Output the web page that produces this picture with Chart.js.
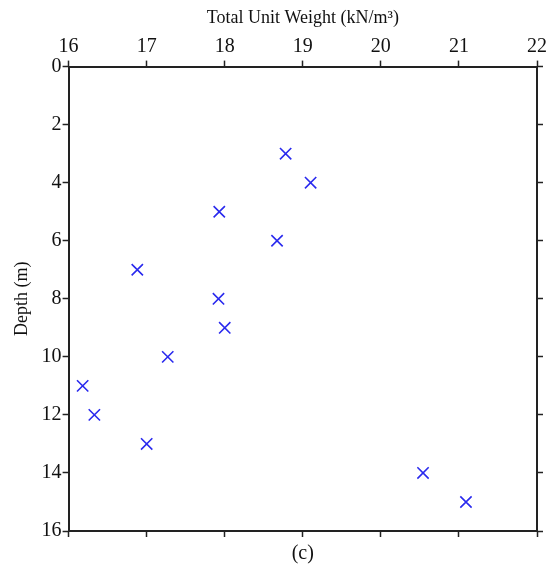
<!DOCTYPE html>
<html>
<head>
<meta charset="utf-8">
<script src="https://cdn.jsdelivr.net/npm/chart.js@4"></script>
<style>
    body { margin: 0; background: #fff; }
    #wrap { width: 550px; height: 574px; }
</style>
</head>
<body>
<div id="wrap"><canvas id="myChart" width="550" height="574"></canvas></div>
<script>
// unit weight readings against depth
const depths = [3, 4, 5, 6, 7, 8, 9, 10, 11, 12, 13, 14, 15];
const unitWeights = [18.78, 19.1, 17.93, 18.67, 16.88, 17.92, 18.0, 17.27, 16.18, 16.33, 17.0, 20.54, 21.09];
const weightTicks = [16, 17, 18, 19, 20, 21, 22];
const depthTicks = [0, 2, 4, 6, 8, 10, 12, 14, 16];

const serif = 'Liberation Serif';
const axisColor = '#222';

let points = [];
for (let i in depths) {
    points.push({ x: unitWeights[i], y: depths[i] });
}

function frameGrid() {
    return {
        drawOnChartArea: false,
        drawTicks: true,
        tickLength: 6,
        tickWidth: 1.5,
        tickColor: axisColor
    };
}

const ctx = document.getElementById('myChart').getContext('2d');
const graph = new Chart(ctx, {
    type: 'scatter',
    data: {
        datasets: [{
            data: points,
            pointStyle: 'crossRot',
            pointRadius: 8,
            pointHoverRadius: 8,
            borderColor: '#2a2aee',
            backgroundColor: '#2a2aee',
            pointBorderWidth: 1.6,
            xAxisID: 'x',
            yAxisID: 'y'
        }]
    },
    options: {
        responsive: false,
        animation: false,
        layout: { padding: { left: 11, right: 7, top: 7, bottom: 8 } },
        plugins: { legend: { display: false }, tooltip: { enabled: false } },
        scales: {
            x: {
                position: 'top',
                min: 16, max: 22,
                afterBuildTicks: s => { s.ticks = weightTicks.map(v => ({ value: v })); },
                ticks: { color: '#111', font: { family: serif, size: 20 }, padding: 2 },
                grid: frameGrid(),
                border: { color: axisColor, width: 2 },
                title: { display: true, text: 'Total Unit Weight (kN/m³)', color: '#111',
                         font: { family: serif, size: 18 }, padding: { top: 0, bottom: 4 } }
            },
            x2: {
                position: 'bottom',
                min: 16, max: 22,
                afterBuildTicks: s => { s.ticks = weightTicks.map(v => ({ value: v })); },
                ticks: { display: false },
                grid: frameGrid(),
                border: { color: axisColor, width: 2 },
                title: { display: true, text: '(c)', color: '#111',
                         font: { family: serif, size: 20 }, padding: { top: 5, bottom: 0 } }
            },
            y: {
                position: 'left',
                reverse: true,
                min: 0, max: 16,
                afterBuildTicks: s => { s.ticks = depthTicks.map(v => ({ value: v })); },
                ticks: { color: '#111', font: { family: serif, size: 20 }, padding: 1 },
                grid: frameGrid(),
                border: { color: axisColor, width: 2 },
                title: { display: true, text: 'Depth (m)', color: '#111',
                         font: { family: serif, size: 18 }, padding: { top: 0, bottom: 8 } }
            },
            y2: {
                position: 'right',
                reverse: true,
                min: 0, max: 16,
                afterBuildTicks: s => { s.ticks = depthTicks.map(v => ({ value: v })); },
                ticks: { display: false },
                grid: frameGrid(),
                border: { color: axisColor, width: 2 }
            }
        }
    }
});
</script>
</body>
</html>
